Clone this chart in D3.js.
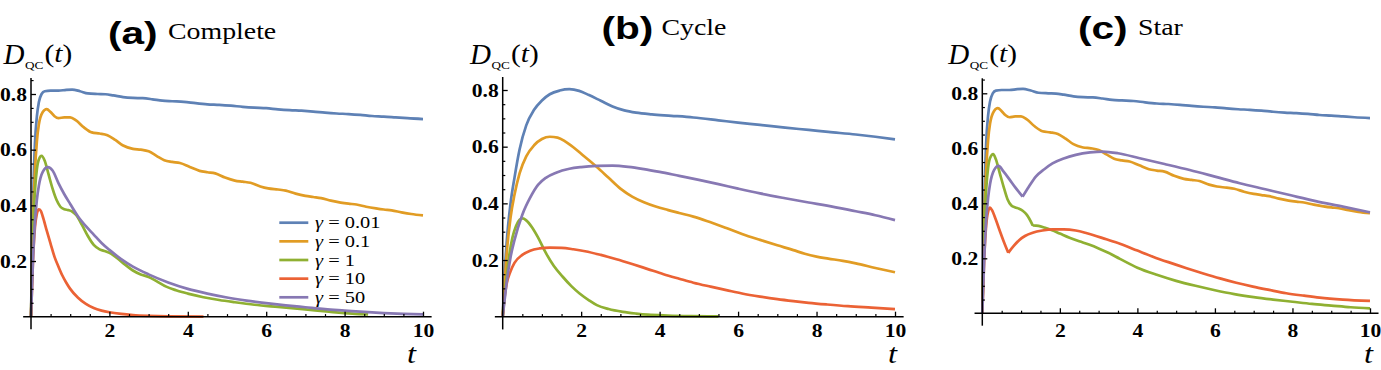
<!DOCTYPE html>
<html><head><meta charset="utf-8">
<script src="https://cdn.jsdelivr.net/npm/d3@7"></script>
<style>body{margin:0;background:#fff}svg{display:block}</style>
</head><body>
<svg id="chart" width="1381" height="370"></svg>
<script>
// ---------- data ----------
const gammaLabels = ["0.01", "0.1", "1", "10", "50"];
const panelLetters = ["(a)", "(b)", "(c)"];
const panelNames = ["Complete", "Cycle", "Star"];
const xTickValues = [2, 4, 6, 8, 10];
const yTickValues = [0.2, 0.4, 0.6, 0.8];
const yTickLabels = ["0.2", "0.4", "0.6", "0.8"];

// Complete graph  [t, D_QC]
const complete_g001 = [[0,0],[0.03,0.25],[0.06,0.45],[0.1,0.62],[0.15,0.72],[0.2,0.77],[0.27,0.8],[0.35,0.81],[0.5,0.812],[0.7,0.812],[0.9,0.815],[1.05,0.816],[1.25,0.81],[1.45,0.802],[1.7,0.8],[1.9,0.799],[2.1,0.795],[2.35,0.789],[2.6,0.786],[2.85,0.785],[3.1,0.781],[3.35,0.776],[3.6,0.774],[3.9,0.772],[4.2,0.767],[4.5,0.763],[4.8,0.761],[5.1,0.758],[5.4,0.754],[5.7,0.751],[6,0.749],[6.3,0.745],[6.6,0.742],[6.9,0.74],[7.2,0.737],[7.5,0.733],[7.8,0.73],[8.1,0.728],[8.4,0.725],[8.7,0.721],[9,0.719],[9.3,0.716],[9.6,0.713],[10,0.71]];
const complete_g01 = [[0,0],[0.03,0.2],[0.06,0.38],[0.1,0.52],[0.15,0.63],[0.2,0.69],[0.3,0.735],[0.4,0.746],[0.5,0.735],[0.6,0.72],[0.7,0.713],[0.85,0.716],[1,0.716],[1.15,0.705],[1.35,0.68],[1.55,0.662],[1.75,0.658],[1.95,0.652],[2.15,0.635],[2.35,0.615],[2.6,0.603],[2.8,0.6],[3,0.594],[3.2,0.578],[3.4,0.562],[3.6,0.556],[3.8,0.552],[4.05,0.538],[4.3,0.524],[4.5,0.519],[4.7,0.515],[4.95,0.5],[5.2,0.489],[5.4,0.485],[5.6,0.481],[5.85,0.468],[6.05,0.461],[6.3,0.457],[6.5,0.453],[6.75,0.442],[7,0.434],[7.2,0.43],[7.4,0.426],[7.65,0.417],[7.9,0.41],[8.1,0.406],[8.3,0.403],[8.55,0.395],[8.8,0.389],[9,0.385],[9.2,0.382],[9.45,0.375],[9.7,0.369],[10,0.364]];
const complete_g1 = [[0,0],[0.05,0.3],[0.1,0.45],[0.15,0.53],[0.2,0.565],[0.27,0.578],[0.35,0.56],[0.45,0.51],[0.55,0.46],[0.65,0.42],[0.75,0.395],[0.85,0.386],[0.95,0.383],[1.05,0.378],[1.15,0.366],[1.3,0.33],[1.45,0.29],[1.6,0.258],[1.75,0.242],[1.9,0.235],[2.05,0.226],[2.2,0.21],[2.4,0.187],[2.6,0.166],[2.8,0.152],[3,0.143],[3.2,0.128],[3.45,0.108],[3.7,0.095],[4,0.083],[4.4,0.07],[4.8,0.06],[5.2,0.052],[5.7,0.043],[6.3,0.035],[7,0.026],[7.6,0.018],[8.2,0.011],[8.6,0.008]];
const complete_g10 = [[0,0],[0.05,0.2],[0.1,0.32],[0.15,0.37],[0.2,0.386],[0.25,0.38],[0.3,0.36],[0.4,0.31],[0.5,0.262],[0.6,0.215],[0.7,0.18],[0.8,0.148],[0.9,0.122],[1,0.1],[1.2,0.068],[1.4,0.046],[1.6,0.031],[1.8,0.022],[2,0.016],[2.3,0.01],[2.6,0.006],[3,0.003],[3.5,0.001],[4.4,0]];
const complete_g50 = [[0,0],[0.05,0.2],[0.1,0.34],[0.15,0.42],[0.2,0.47],[0.3,0.52],[0.43,0.537],[0.55,0.525],[0.7,0.48],[0.85,0.44],[1,0.405],[1.2,0.36],[1.4,0.325],[1.6,0.295],[1.8,0.265],[2,0.24],[2.3,0.207],[2.6,0.18],[3,0.152],[3.5,0.123],[4,0.1],[4.5,0.083],[5,0.069],[5.5,0.058],[6,0.049],[6.5,0.041],[7,0.034],[7.5,0.027],[8,0.022],[8.5,0.017],[9,0.013],[9.5,0.01],[10,0.008]];

// Cycle graph
const cycle_g001 = [[0,0],[0.05,0.15],[0.1,0.26],[0.2,0.4],[0.3,0.49],[0.43,0.59],[0.6,0.675],[0.8,0.73],[1,0.763],[1.2,0.785],[1.45,0.798],[1.7,0.803],[1.95,0.797],[2.2,0.782],[2.5,0.762],[2.8,0.742],[3.1,0.728],[3.4,0.72],[3.8,0.714],[4.3,0.709],[4.86,0.703],[5.5,0.693],[6,0.685],[6.56,0.677],[7.2,0.667],[7.8,0.659],[8.3,0.652],[9,0.643],[9.5,0.635],[10,0.626]];
const cycle_g01 = [[0,0],[0.05,0.12],[0.1,0.22],[0.2,0.35],[0.3,0.43],[0.43,0.506],[0.6,0.566],[0.8,0.605],[1,0.627],[1.2,0.635],[1.4,0.632],[1.6,0.618],[1.8,0.598],[2,0.575],[2.2,0.552],[2.4,0.528],[2.7,0.49],[3,0.452],[3.3,0.424],[3.6,0.404],[3.9,0.389],[4.2,0.377],[4.5,0.366],[4.86,0.353],[5.2,0.338],[5.7,0.313],[6.1,0.292],[6.56,0.271],[7,0.252],[7.41,0.235],[7.7,0.222],[8,0.212],[8.3,0.205],[8.67,0.197],[9,0.188],[9.5,0.172],[10,0.157]];
const cycle_g1 = [[0,0],[0.05,0.08],[0.1,0.14],[0.17,0.22],[0.25,0.28],[0.34,0.32],[0.43,0.342],[0.51,0.347],[0.6,0.34],[0.75,0.315],[0.9,0.28],[1.1,0.225],[1.3,0.18],[1.53,0.141],[1.75,0.108],[1.96,0.082],[2.2,0.058],[2.4,0.041],[2.7,0.027],[3.06,0.017],[3.4,0.011],[3.7,0.007],[4.2,0.004],[4.8,0.002],[5.5,0.001]];
const cycle_g10 = [[0,0],[0.05,0.07],[0.1,0.115],[0.2,0.16],[0.3,0.19],[0.5,0.218],[0.7,0.233],[0.94,0.241],[1.2,0.244],[1.5,0.243],[1.8,0.238],[2.1,0.231],[2.5,0.218],[2.9,0.203],[3.3,0.186],[3.7,0.168],[4.1,0.15],[4.5,0.134],[4.86,0.12],[5.3,0.106],[5.7,0.094],[6.1,0.082],[6.56,0.071],[7,0.062],[7.41,0.055],[7.8,0.049],[8.27,0.043],[8.8,0.037],[9.4,0.032],[10,0.027]];
const cycle_g50 = [[0,0],[0.05,0.06],[0.1,0.12],[0.2,0.21],[0.3,0.27],[0.5,0.36],[0.7,0.42],[0.9,0.465],[1.1,0.49],[1.36,0.508],[1.7,0.522],[2,0.528],[2.4,0.532],[2.8,0.533],[3.2,0.529],[3.6,0.521],[4,0.511],[4.5,0.497],[5,0.483],[5.5,0.468],[6,0.452],[6.56,0.435],[7.2,0.418],[7.8,0.403],[8.27,0.392],[9,0.372],[9.5,0.358],[10,0.341]];

// Star graph
const star_g001 = complete_g001;
const star_g01 = complete_g01;
const star_g1 = [[0,0],[0.05,0.3],[0.1,0.45],[0.15,0.53],[0.2,0.565],[0.28,0.579],[0.35,0.56],[0.45,0.51],[0.55,0.46],[0.65,0.415],[0.75,0.392],[0.85,0.385],[0.95,0.38],[1.05,0.372],[1.15,0.358],[1.3,0.32],[1.45,0.318],[1.6,0.312],[1.8,0.302],[2,0.29],[2.25,0.275],[2.5,0.262],[2.75,0.25],[3,0.236],[3.25,0.22],[3.55,0.198],[4,0.166],[4.5,0.14],[5,0.118],[5.5,0.1],[6,0.084],[6.5,0.07],[7,0.059],[7.5,0.05],[8,0.042],[8.5,0.034],[9,0.028],[9.5,0.022],[10,0.018]];
const star_g10 = [[0,0],[0.05,0.2],[0.1,0.32],[0.15,0.37],[0.2,0.384],[0.25,0.375],[0.35,0.34],[0.45,0.3],[0.55,0.262],[0.67,0.22],[0.8,0.243],[0.95,0.266],[1.1,0.281],[1.3,0.293],[1.55,0.301],[1.81,0.305],[2.1,0.305],[2.41,0.301],[2.7,0.291],[3.2,0.269],[3.55,0.253],[4,0.228],[4.4,0.206],[4.8,0.186],[5.27,0.164],[5.7,0.145],[6.13,0.127],[6.55,0.111],[6.98,0.097],[7.4,0.085],[7.84,0.073],[8.3,0.064],[8.7,0.057],[9.3,0.05],[10,0.045]];
const star_g50 = [[0,0],[0.05,0.2],[0.1,0.34],[0.15,0.42],[0.2,0.47],[0.3,0.52],[0.42,0.536],[0.55,0.515],[0.7,0.487],[0.85,0.458],[1.04,0.424],[1.2,0.46],[1.38,0.497],[1.6,0.524],[1.81,0.545],[2.1,0.563],[2.41,0.576],[2.78,0.585],[3.1,0.588],[3.5,0.582],[4.06,0.564],[4.7,0.543],[5.35,0.521],[6,0.497],[6.64,0.473],[7.3,0.451],[7.93,0.43],[8.6,0.408],[9.3,0.388],[10,0.367]];
// times where the star-graph curves have a cusp (per series)
const starCusps = [null, null, 1.3, 0.67, 1.04];

const completeSeries = [complete_g001, complete_g01, complete_g1, complete_g10, complete_g50];
const cycleSeries = [cycle_g001, cycle_g01, cycle_g1, cycle_g10, cycle_g50];
const starSeries = [star_g001, star_g01, star_g1, star_g10, star_g50];

// ---------- style / layout ----------
const colors = ["#5E81B5", "#E19C24", "#8FB032", "#EB6235", "#8778B3"];
const SERIF = "'Liberation Serif','Times New Roman',serif";
const SANS = "'Liberation Sans',Arial,Helvetica,sans-serif";

const panels = [
  {series: completeSeries, cusps: [null,null,null,null,null], x0: 31, x10: 423, y0: 316.7, y08: 94, yTop: 78,
   letterX: 108, letterY: 43.5, nameX: 168, nameY: 38.5, dX: 3.5, tX: 407, legend: true},
  {series: cycleSeries, cusps: [null,null,null,null,null], x0: 502.7, x10: 895, y0: 316.7, y08: 90, yTop: 77,
   letterX: 601.5, letterY: 38.5, nameX: 661.5, nameY: 35, dX: 470, tX: 888, legend: false},
  {series: starSeries, cusps: starCusps, x0: 982.3, x10: 1370, y0: 313.3, y08: 93.3, yTop: 78.3,
   letterX: 1078, letterY: 38.5, nameX: 1138, nameY: 35, dX: 948.3, tX: 1364, legend: false}
];

const svg = d3.select("#chart");

panels.forEach((p, pi) => {
  const g = svg.append("g");
  const x = d3.scaleLinear().domain([0, 10]).range([p.x0, p.x10]);
  const y = d3.scaleLinear().domain([0, 0.8]).range([p.y0, p.y08]);

  // curves
  const line = d3.line().x(d => x(d[0])).y(d => y(d[1])).curve(d3.curveMonotoneX);
  p.series.forEach((data, si) => {
    const c = p.cusps[si];
    const segs = c == null ? [data] : [data.filter(d => d[0] <= c), data.filter(d => d[0] >= c)];
    g.append("path")
      .attr("d", segs.map(s => line(s)).join(""))
      .attr("fill", "none")
      .attr("stroke", colors[si])
      .attr("stroke-width", 2.7)
      .attr("stroke-linejoin", "round")
      .attr("stroke-linecap", "butt");
  });

  // axes lines
  g.append("line").attr("x1", x(-0.2)).attr("x2", x(10.22)).attr("y1", p.y0).attr("y2", p.y0)
    .attr("stroke", "#000").attr("stroke-width", 1.5);
  g.append("line").attr("x1", p.x0).attr("x2", p.x0).attr("y1", y(-0.045)).attr("y2", p.yTop)
    .attr("stroke", "#000").attr("stroke-width", 1.5);

  // x minor ticks
  const xMinor = d3.range(0.5, 10.01, 0.5).filter(v => Math.abs(v / 2 - Math.round(v / 2)) > 1e-6);
  const gxm = g.append("g").attr("transform", `translate(0,${p.y0})`)
    .call(d3.axisBottom(x).tickValues(xMinor).tickSizeInner(-2.6).tickSizeOuter(0).tickFormat(""));
  gxm.select(".domain").remove();
  gxm.selectAll(".tick line").attr("stroke", "#000").attr("stroke-width", 1.2);

  // x major ticks + labels
  const gx = g.append("g").attr("transform", `translate(0,${p.y0})`)
    .call(d3.axisBottom(x).tickValues(xTickValues).tickSizeInner(-5).tickSizeOuter(0).tickFormat(d3.format("d")));
  gx.select(".domain").remove();
  gx.selectAll(".tick line").attr("stroke", "#000").attr("stroke-width", 1.3);
  gx.selectAll(".tick text")
    .attr("y", 0).attr("dy", 0)
    .attr("transform", `translate(0,${337 - p.y0}) scale(1.2,1)`)
    .attr("fill", "#000")
    .style("font-family", SERIF).style("font-size", "18px").style("font-weight", "bold");

  // y minor ticks
  const yMinor = d3.range(0.05, 0.851, 0.05).filter(v => Math.abs(v / 0.2 - Math.round(v / 0.2)) > 1e-6)
    .filter(v => y(v) >= p.yTop);
  const gym = g.append("g").attr("transform", `translate(${p.x0},0)`)
    .call(d3.axisLeft(y).tickValues(yMinor).tickSizeInner(-2.6).tickSizeOuter(0).tickFormat(""));
  gym.select(".domain").remove();
  gym.selectAll(".tick line").attr("stroke", "#000").attr("stroke-width", 1.2);

  // y major ticks + labels
  const gy = g.append("g").attr("transform", `translate(${p.x0},0)`)
    .call(d3.axisLeft(y).tickValues(yTickValues).tickSizeInner(-5).tickSizeOuter(0)
      .tickFormat((d, i) => yTickLabels[i]));
  gy.select(".domain").remove();
  gy.selectAll(".tick line").attr("stroke", "#000").attr("stroke-width", 1.3);
  gy.selectAll(".tick text")
    .attr("x", 0).attr("dy", "0.35em")
    .attr("text-anchor", "end")
    .attr("transform", "translate(-4,0) scale(1.2,1)")
    .attr("fill", "#000")
    .style("font-family", SERIF).style("font-size", "18px").style("font-weight", "bold");

  // title
  g.append("text").text(panelLetters[pi])
    .attr("transform", `translate(${p.letterX},${p.letterY}) scale(1.27,1)`)
    .style("font-family", SANS).style("font-weight", "bold").style("font-size", "32px");
  g.append("text").text(panelNames[pi])
    .attr("transform", `translate(${p.nameX},${p.nameY}) scale(1.16,1)`)
    .style("font-family", SERIF).style("font-size", "24px");

  // y label  D_QC(t)
  g.append("text").text("D")
    .attr("transform", `translate(${p.dX},64)`)
    .style("font-family", SERIF).style("font-style", "italic").style("font-size", "29px");
  g.append("text").text("QC")
    .attr("transform", `translate(${p.dX + 21.5},69) scale(1.2,1)`)
    .style("font-family", SERIF).style("font-size", "11px");
  const tl = g.append("text")
    .attr("transform", `translate(${p.dX + 41},62) scale(1.13,1)`)
    .style("font-family", SERIF).style("font-size", "26px");
  tl.append("tspan").text("(");
  tl.append("tspan").text("t").style("font-style", "italic");
  tl.append("tspan").text(")");

  // x label t
  g.append("text").text("t")
    .attr("transform", `translate(${p.tX},363) scale(1.2,1)`)
    .style("font-family", SERIF).style("font-style", "italic").style("font-size", "27px");

  // legend
  if (p.legend) {
    const rowY = d3.scalePoint().domain(d3.range(gammaLabels.length)).range([222.7, 297.3]);
    gammaLabels.forEach((lab, i) => {
      const yy = rowY(i);
      g.append("line").attr("x1", 279.3).attr("x2", 308.3).attr("y1", yy).attr("y2", yy)
        .attr("stroke", colors[i]).attr("stroke-width", 2.7);
      const t = g.append("text")
        .attr("transform", `translate(315,${yy + 5.7}) scale(1.2,1)`)
        .style("font-family", SERIF).style("font-size", "17px");
      t.append("tspan").text("γ").style("font-style", "italic");
      t.append("tspan").text(" = " + lab);
    });
  }
});
</script>
</body></html>
